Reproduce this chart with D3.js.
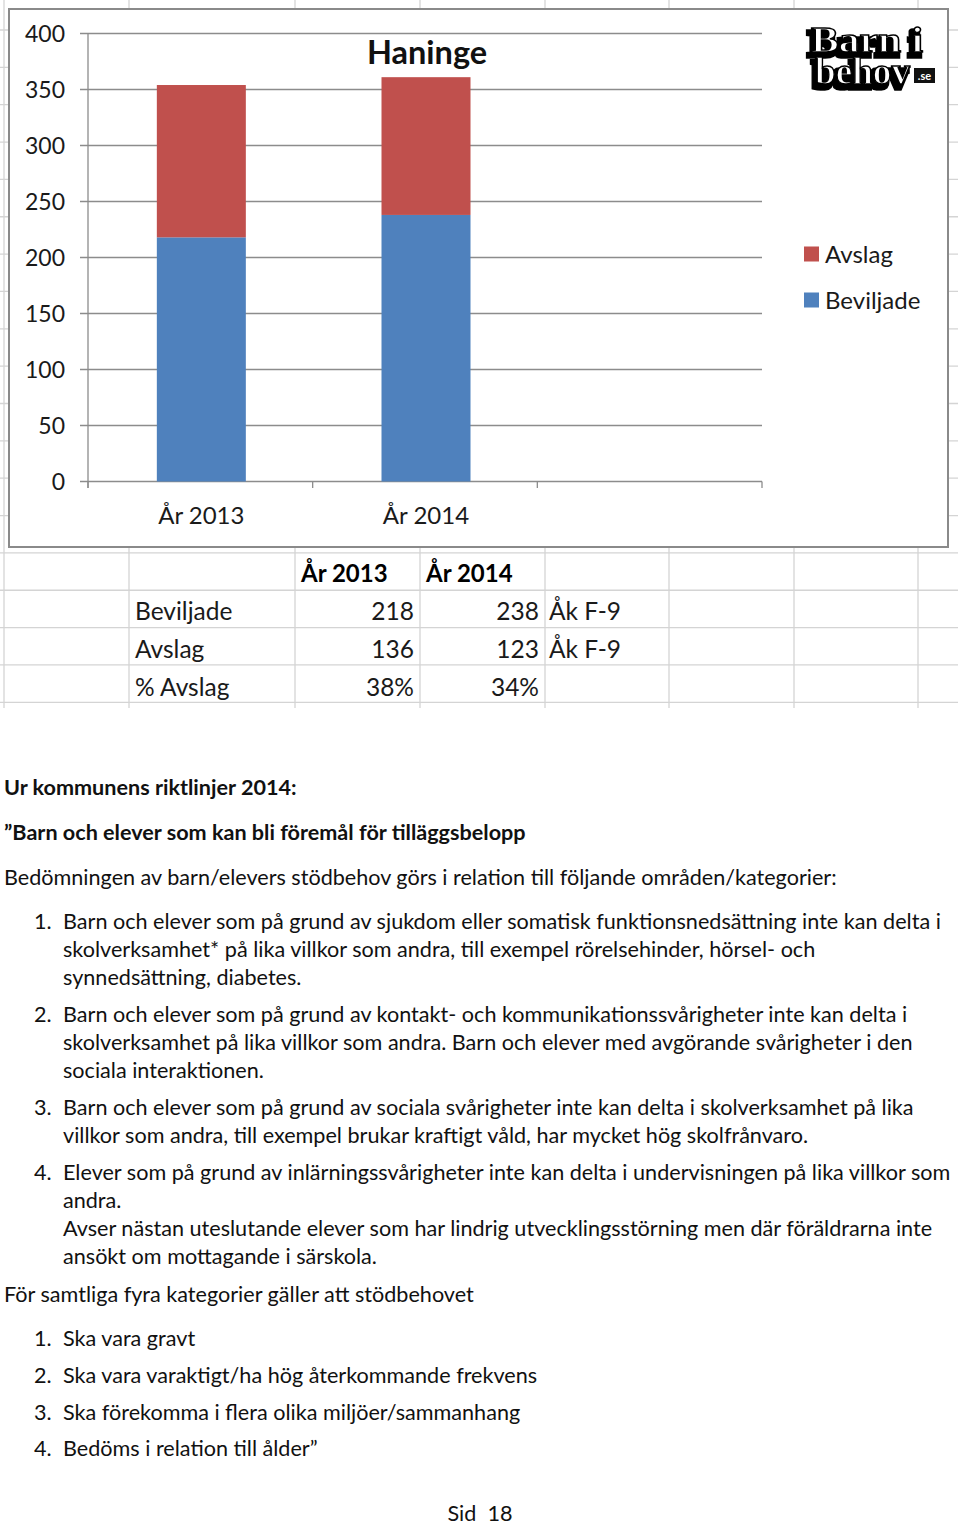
<!DOCTYPE html>
<html><head><meta charset="utf-8">
<script src="https://cdn.jsdelivr.net/npm/d3@7"></script>
<style>
html,body{margin:0;padding:0;background:#fff;}
svg{display:block;}
</style></head>
<body>
<svg id="c" width="960" height="1525"></svg>
<script>
// ---- data ----
const categories = ["År 2013", "År 2014"];
const beviljade = [218, 238];
const avslag = [136, 123];
const pctAvslag = ["38%", "34%"];
const notes = ["Åk F-9", "Åk F-9"];
const yTicks = [0, 50, 100, 150, 200, 250, 300, 350, 400];
const seriesNames = ["Beviljade", "Avslag"];
const seriesColors = ["#4F81BD", "#C0504D"];
const chartTitle = "Haninge";

const bodyLines = [
  {t:"Ur kommunens riktlinjer 2014:", b:true, x:4, y:795},
  {t:"”Barn och elever som kan bli föremål för tilläggsbelopp", b:true, x:4, y:840},
  {t:"Bedömningen av barn/elevers stödbehov görs i relation till följande områden/kategorier:", x:4, y:885},
  {n:"1.", t:"Barn och elever som på grund av sjukdom eller somatisk funktionsnedsättning inte kan delta i", y:929},
  {t:"skolverksamhet* på lika villkor som andra, till exempel rörelsehinder, hörsel- och", y:957},
  {t:"synnedsättning, diabetes.", y:985},
  {n:"2.", t:"Barn och elever som på grund av kontakt- och kommunikationssvårigheter inte kan delta i", y:1022},
  {t:"skolverksamhet på lika villkor som andra. Barn och elever med avgörande svårigheter i den", y:1050},
  {t:"sociala interaktionen.", y:1078},
  {n:"3.", t:"Barn och elever som på grund av sociala svårigheter inte kan delta i skolverksamhet på lika", y:1115},
  {t:"villkor som andra, till exempel brukar kraftigt våld, har mycket hög skolfrånvaro.", y:1143},
  {n:"4.", t:"Elever som på grund av inlärningssvårigheter inte kan delta i undervisningen på lika villkor som", y:1180},
  {t:"andra.", y:1208},
  {t:"Avser nästan uteslutande elever som har lindrig utvecklingsstörning men där föräldrarna inte", y:1236},
  {t:"ansökt om mottagande i särskola.", y:1264},
  {t:"För samtliga fyra kategorier gäller att stödbehovet", x:4, y:1302},
  {n:"1.", t:"Ska vara gravt", y:1346},
  {n:"2.", t:"Ska vara varaktigt/ha hög återkommande frekvens", y:1383},
  {n:"3.", t:"Ska förekomma i flera olika miljöer/sammanhang", y:1420},
  {n:"4.", t:"Bedöms i relation till ålder”", y:1456}
];

const svg = d3.select("#c");
const FONT = "Lato, 'Open Sans', sans-serif";
const TXT = "#1a1a1a";

// shadow filter for logo
const defs = svg.append("defs");
const f = defs.append("filter").attr("id", "logoShadow").attr("x", "-20%").attr("y", "-20%")
  .attr("width", "140%").attr("height", "160%");
f.append("feMorphology").attr("in", "SourceAlpha").attr("operator", "dilate").attr("radius", 1.5).attr("result", "d");
f.append("feOffset").attr("in", "d").attr("dx", -3).attr("dy", 4).attr("result", "o");
f.append("feFlood").attr("flood-color", "#000");
f.append("feComposite").attr("in2", "o").attr("operator", "in").attr("result", "sh");
const fm = f.append("feMerge");
fm.append("feMergeNode").attr("in", "sh");
fm.append("feMergeNode").attr("in", "SourceGraphic");

// ---- spreadsheet grid behind ----
const gridCols = [4, 129, 295, 420, 545, 669, 794, 918];
const grid = svg.append("g").attr("stroke", "#d4d4d4").attr("stroke-width", 1.3);
gridCols.forEach(x => grid.append("line").attr("x1", x).attr("x2", x).attr("y1", 0).attr("y2", 708));
d3.range(19).forEach(i => {
  const y = 30 + i * 37.35;
  grid.append("line").attr("x1", 0).attr("x2", 958).attr("y1", y).attr("y2", y);
});

// ---- chart frame ----
svg.append("rect").attr("x", 9).attr("y", 9).attr("width", 939).attr("height", 538)
  .attr("fill", "#fff").attr("stroke", "#8a8a8a").attr("stroke-width", 2);

// ---- scales ----
const xBound = d3.scaleLinear().domain([0, 3]).range([88, 762]);
const y = d3.scaleLinear().domain([0, 400]).range([481.5, 33.5]);

// gridlines
const g = svg.append("g");
g.selectAll("line.gl").data(yTicks).join("line")
  .attr("x1", 80).attr("x2", 762)
  .attr("y1", d => y(d)).attr("y2", d => y(d))
  .attr("stroke", "#8c8c8c").attr("stroke-width", 1.3);
// y axis line
g.append("line").attr("x1", 88).attr("x2", 88).attr("y1", y(400)).attr("y2", 488)
  .attr("stroke", "#8c8c8c").attr("stroke-width", 1.3);
// x ticks
g.selectAll("line.xt").data([0, 1, 2, 3]).join("line")
  .attr("x1", d => xBound(d)).attr("x2", d => xBound(d))
  .attr("y1", y(0)).attr("y2", 488)
  .attr("stroke", "#8c8c8c").attr("stroke-width", 1.3);

// y tick labels
g.selectAll("text.yl").data(yTicks).join("text")
  .attr("x", 65).attr("y", d => y(d) + 8)
  .attr("text-anchor", "end").attr("font-family", FONT).attr("font-size", 23)
  .attr("fill", TXT).text(d => d);

// stacked bars
const rows = categories.map((c, i) => ({cat: c, Beviljade: beviljade[i], Avslag: avslag[i]}));
const stack = d3.stack().keys(seriesNames)(rows);
const bw = 89;
const catCenter = d => (xBound(categories.indexOf(d) + 0.5));
stack.forEach((s, si) => {
  g.selectAll("rect.s" + si).data(s).join("rect")
    .attr("x", d => catCenter(d.data.cat) - bw / 2 + 1)
    .attr("width", bw)
    .attr("y", d => y(d[1]))
    .attr("height", d => y(d[0]) - y(d[1]))
    .attr("fill", seriesColors[si]);
});

// x labels
g.selectAll("text.xl").data(categories).join("text")
  .attr("x", d => catCenter(d) + 1).attr("y", 524)
  .attr("text-anchor", "middle").attr("font-family", FONT).attr("font-size", 24)
  .attr("fill", TXT).text(d => d);

// title
svg.append("text").attr("x", 427).attr("y", 64).attr("text-anchor", "middle")
  .attr("font-family", FONT).attr("font-weight", "bold").attr("font-size", 32.5)
  .attr("fill", "#111").text(chartTitle);

// legend
const legendOrder = [1, 0];
legendOrder.forEach((si, k) => {
  const ly = 254 + k * 46;
  svg.append("rect").attr("x", 804).attr("y", ly - 7.5).attr("width", 15).attr("height", 15)
    .attr("fill", seriesColors[si]);
  svg.append("text").attr("x", 825).attr("y", ly + 8.5).attr("font-family", FONT)
    .attr("font-size", 24).attr("fill", TXT).text(seriesNames[si]);
});

// logo (one text element, two lines)
const logo = svg.append("g").attr("font-family", "'Liberation Serif', serif").attr("font-weight", "bold");
const logoText = logo.append("text").attr("fill", "#fff").attr("stroke", "#000").attr("stroke-width", 1.4)
  .attr("filter", "url(#logoShadow)");
[["Barn i", 811, 52, 112, 36], ["behov", 815, 84, 95, 38]].forEach(([t, lx, ly, w, fs]) => {
  logoText.append("tspan").attr("x", lx).attr("y", ly).attr("font-size", fs)
    .attr("textLength", w).attr("lengthAdjust", "spacingAndGlyphs").text(t);
});
logo.append("rect").attr("x", 914).attr("y", 68).attr("width", 21).attr("height", 15).attr("fill", "#111");
logo.append("text").attr("x", 924.5).attr("y", 80).attr("text-anchor", "middle").attr("font-size", 11)
  .attr("font-family", FONT).attr("fill", "#fff").text(".se");

// ---- table ----
const tbl = svg.append("g").attr("font-family", FONT).attr("font-size", 24.5).attr("fill", TXT);
categories.forEach((c, i) => {
  tbl.append("text").attr("x", 301 + i * 125).attr("y", 582).attr("font-weight", "bold")
    .attr("fill", "#000").attr("font-size", 24).text(c);
});
const tableRows = [
  {label: "Beviljade", vals: beviljade, note: notes[0]},
  {label: "Avslag", vals: avslag, note: notes[1]},
  {label: "% Avslag", vals: pctAvslag, note: ""}
];
tableRows.forEach((r, ri) => {
  const by = 620 + ri * 38;
  tbl.append("text").attr("x", 135).attr("y", by).text(r.label);
  r.vals.forEach((v, i) => {
    tbl.append("text").attr("x", 414 + i * 125).attr("y", by).attr("text-anchor", "end").text(v);
  });
  if (r.note) tbl.append("text").attr("x", 549).attr("y", by).text(r.note);
});

// ---- body text ----
const body = svg.append("g").attr("font-family", FONT).attr("font-size", 21.6).attr("fill", "#111");
bodyLines.forEach(l => {
  if (l.n) body.append("text").attr("x", 34).attr("y", l.y).text(l.n);
  body.append("text").attr("x", l.x !== undefined ? l.x : 63).attr("y", l.y)
    .attr("font-weight", l.b ? "bold" : null).text(l.t);
});
svg.append("text").attr("x", 480).attr("y", 1521).attr("text-anchor", "middle")
  .attr("font-family", FONT).attr("font-size", 21.6).attr("fill", "#111").text("Sid\u00a0\u00a018");
</script>
</body></html>
